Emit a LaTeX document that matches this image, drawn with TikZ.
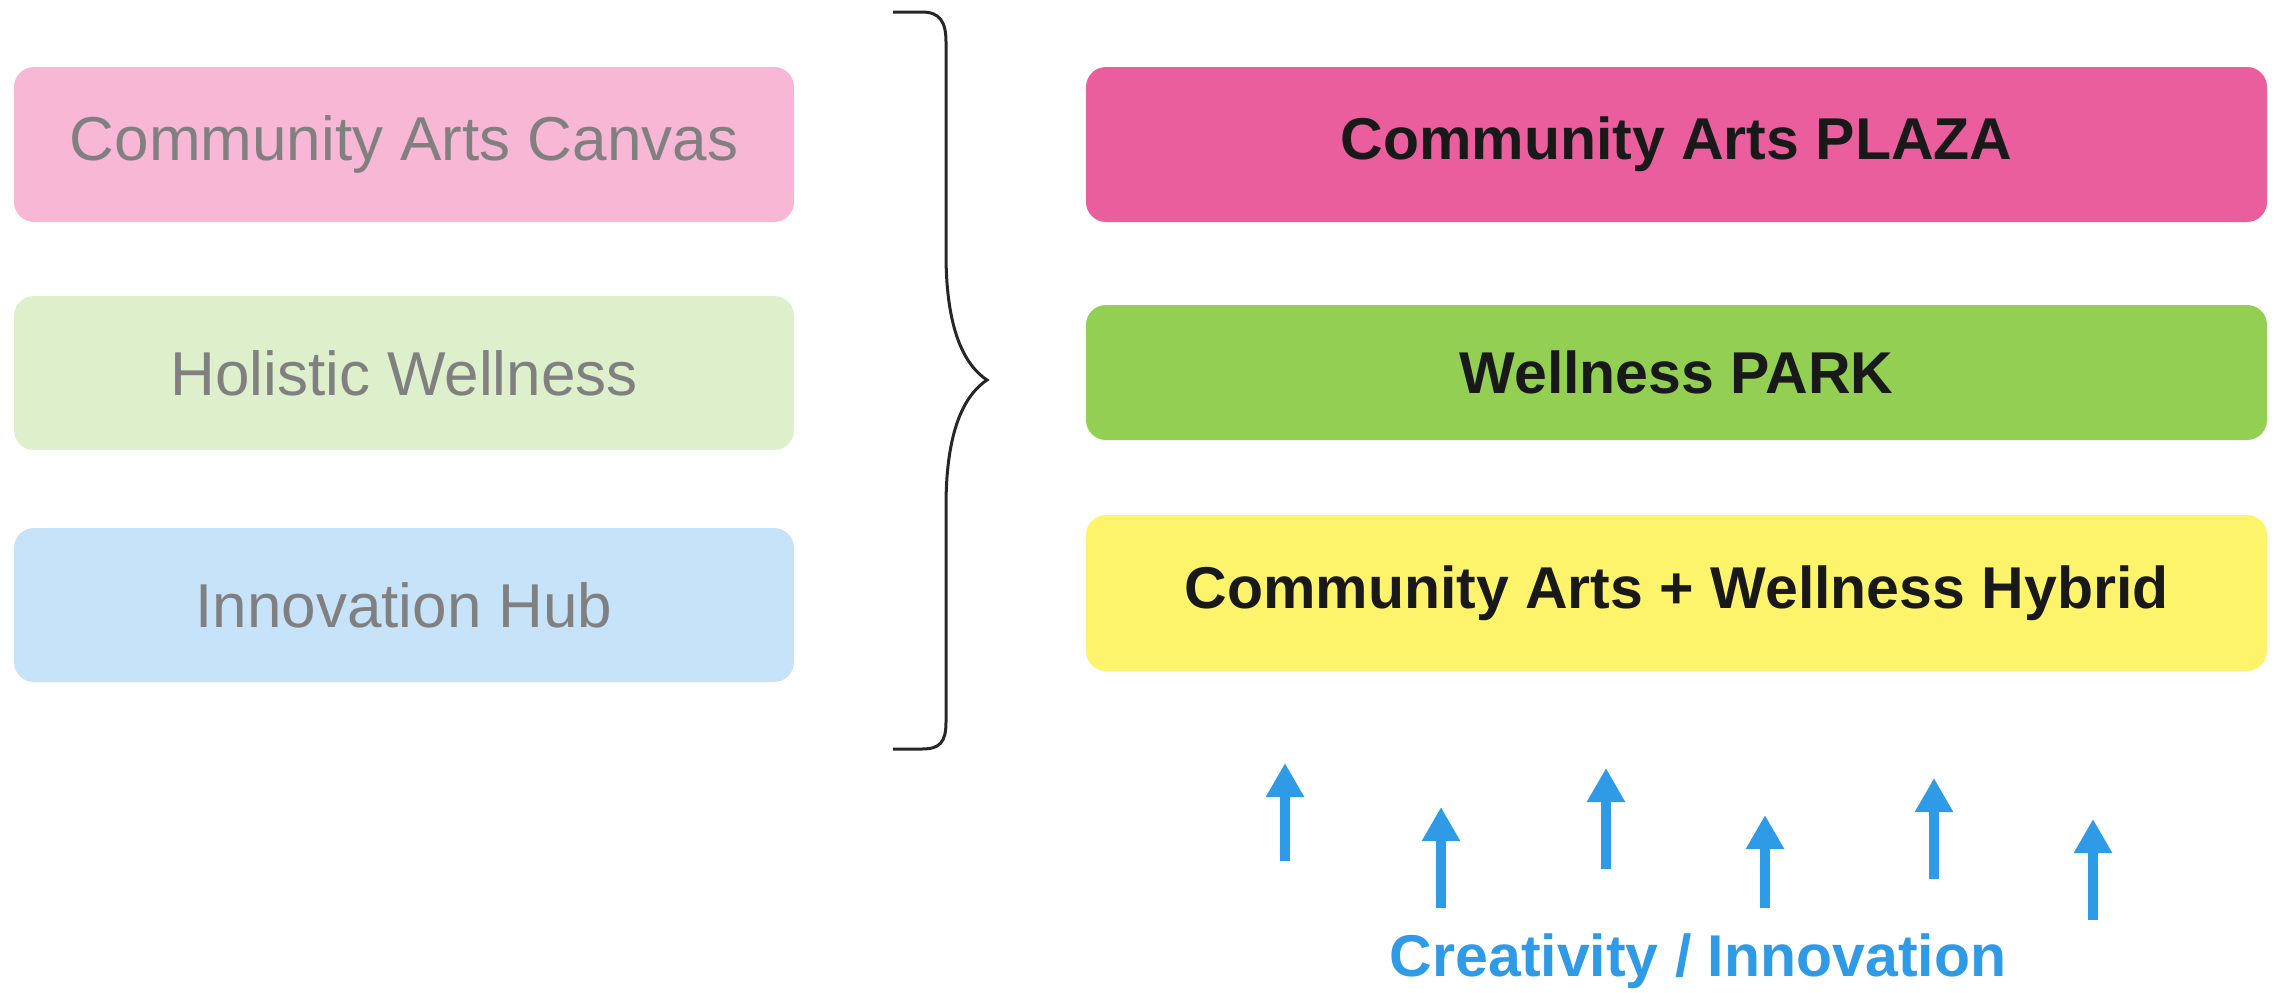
\documentclass[tikz,border=0pt]{standalone}
\usepackage{fontspec}
\setmainfont{Liberation Sans}
\usetikzlibrary{arrows.meta}

\definecolor{softpink}{HTML}{F7B7D5}
\definecolor{softgreen}{HTML}{DDF0CB}
\definecolor{softblue}{HTML}{C6E3FA}
\definecolor{plazapink}{HTML}{EA5E9D}
\definecolor{parkgreen}{HTML}{92CF53}
\definecolor{hybridyellow}{HTML}{FDF46B}
\definecolor{ideablue}{HTML}{2F9AE6}
\definecolor{fadedtext}{HTML}{808080}

\tikzset{
  themebox/.style={rounded corners=20pt, inner sep=0pt, minimum width=780pt,
    text=fadedtext, font=\fontsize{62}{70}\selectfont},
  sitebox/.style={rounded corners=20pt, inner sep=0pt, minimum width=1181pt,
    text=black!90, font=\fontsize{59}{66}\selectfont\bfseries},
  uparrow/.style={draw=ideablue, line width=10pt,
    -{Triangle[width=36pt,length=34pt]}}
}

\begin{document}
\begin{tikzpicture}[x=1pt,y=-1pt]
        \useasboundingbox (0,0) rectangle (2276,993);

        \node[themebox, fill=softpink, minimum height=155pt] (canvas) at (404,144.5){Community Arts Canvas};
        \node[themebox, fill=softgreen, minimum height=154pt] (holistic) at (404,373){Holistic Wellness};
        \node[themebox, fill=softblue, minimum height=154pt] (hub) at (404,605){Innovation Hub};

        \node[sitebox, fill=plazapink, minimum height=155pt] (plaza) at (1676.5,144.5){Community Arts PLAZA};
        \node[sitebox, fill=parkgreen, minimum height=135pt] (park) at (1676.5,372.5){Wellness PARK};
        \node[sitebox, fill=hybridyellow, minimum height=156pt] (hybrid) at (1676.5,593){Community Arts + Wellness Hybrid};

        % brace
        \draw[line width=3pt, black!85] (893,12) -- (922,12)
            .. controls (940,12) and (946,22) .. (946,42) -- (946,254)
            .. controls (946,320) and (960,362) .. (987,380)
            .. controls (960,398) and (946,440) .. (946,506) -- (946,722)
            .. controls (946,742) and (940,749) .. (922,749) -- (893,749);

        % arrows
        \foreach \i/\x/\tip/\tail in {1/1285/763/861, 2/1441/807/908, 3/1606/768/869,
                                      4/1765/815/908, 5/1934/778/879, 6/2093/819/920}{
            \coordinate (lift\i) at (\x,\tail);
            \coordinate (peak\i) at (\x,\tip);
            \draw[uparrow] (lift\i) -- (peak\i);
        }

        \node[text=ideablue, font=\fontsize{59}{66}\selectfont\bfseries] (drive) at (1698,961){Creativity / Innovation};
    \end{tikzpicture}
\end{document}
